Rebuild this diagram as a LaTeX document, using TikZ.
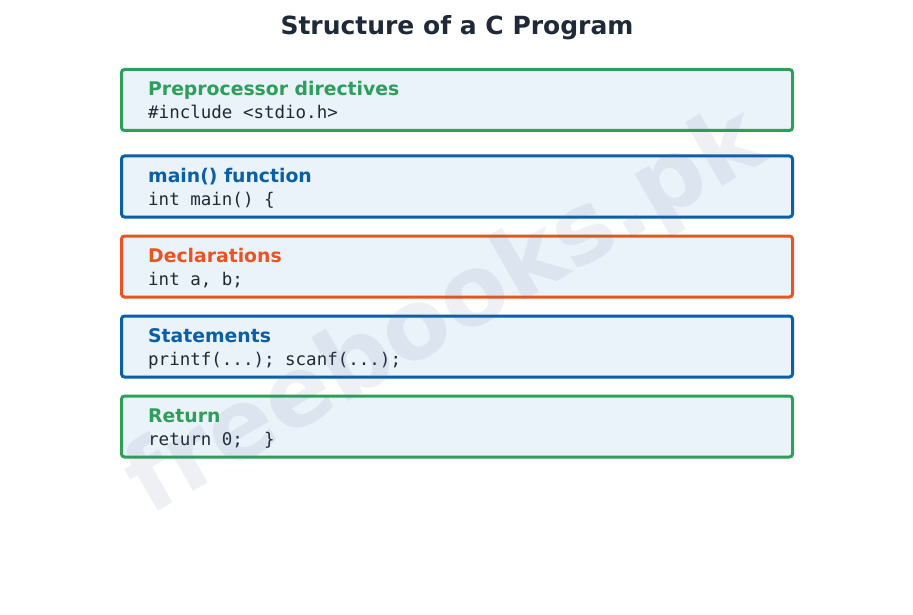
\documentclass[tikz,border=0pt]{standalone}
\usepackage{fontspec}
\setmainfont{DejaVu Sans}
\setmonofont{DejaVu Sans Mono}
\usepackage{tikz}
\usetikzlibrary{positioning}
\definecolor{secgreen}{HTML}{2E9E5B}
\definecolor{secblue}{HTML}{0B5EA8}
\definecolor{secorange}{HTML}{EA5422}
\definecolor{boxfill}{HTML}{EAF2FA}
\definecolor{titletext}{HTML}{1F2937}
\definecolor{codetext}{HTML}{1F2937}
\definecolor{wmark}{HTML}{5A6F8F}

\begin{document}
\begin{tikzpicture}[x=1pt, y=-1pt, node distance=80pt, on grid,
    block/.style={draw=#1, line width=3pt, rounded corners=3pt, fill=boxfill,
        minimum width=671pt, minimum height=61pt, inner sep=0pt},
    head/.style={anchor=base west, text=#1, inner sep=0pt,
        font=\fontsize{18.8}{22}\selectfont\bfseries},
    code/.style={anchor=base west, text=codetext, inner sep=0pt,
        font=\fontsize{17.5}{21}\selectfont\ttfamily}]
    \useasboundingbox (0,0) rectangle (913,615);

    \node[anchor=base, text=titletext, font=\fontsize{25}{30}\selectfont\bfseries]
        (title) at (457,34.5) {Structure of a C Program};

    % the five parts of a program
    \node[block=secgreen] (pre) at (457,100) {};
    \node[block=secblue, below=86.5pt of pre] (main) {};
    \node[block=secorange, below=of main] (decl) {};
    \node[block=secblue, below=of decl] (stmt) {};
    \node[block=secgreen, below=of stmt] (ret) {};

    \node[head=secgreen] (prehead) at ([shift={(28pt,-28pt)}]pre.north west) {Preprocessor directives};
    \node[code] (precode) at ([shift={(28pt,-50.5pt)}]pre.north west) {\#include <stdio.h>};
    \node[head=secblue] (mainhead) at ([shift={(28pt,-28pt)}]main.north west) {main() function};
    \node[code] (maincode) at ([shift={(28pt,-50.5pt)}]main.north west) {int main() \{};
    \node[head=secorange] (declhead) at ([shift={(28pt,-28pt)}]decl.north west) {Declarations};
    \node[code] (declcode) at ([shift={(28pt,-50.5pt)}]decl.north west) {int a, b;};
    \node[head=secblue] (stmthead) at ([shift={(28pt,-28pt)}]stmt.north west) {Statements};
    \node[code] (stmtcode) at ([shift={(28pt,-50.5pt)}]stmt.north west) {printf(...); scanf(...);};
    \node[head=secgreen] (rethead) at ([shift={(28pt,-28pt)}]ret.north west) {Return};
    \node[code] (retcode) at ([shift={(28pt,-50.5pt)}]ret.north west) {return 0;~~\}};

    % watermark
    \node[rotate=30, text=wmark, text opacity=0.1,
        font=\fontsize{97}{97}\selectfont\bfseries] (mark) at (447,314) {freebooks.pk};
\end{tikzpicture}
\end{document}
